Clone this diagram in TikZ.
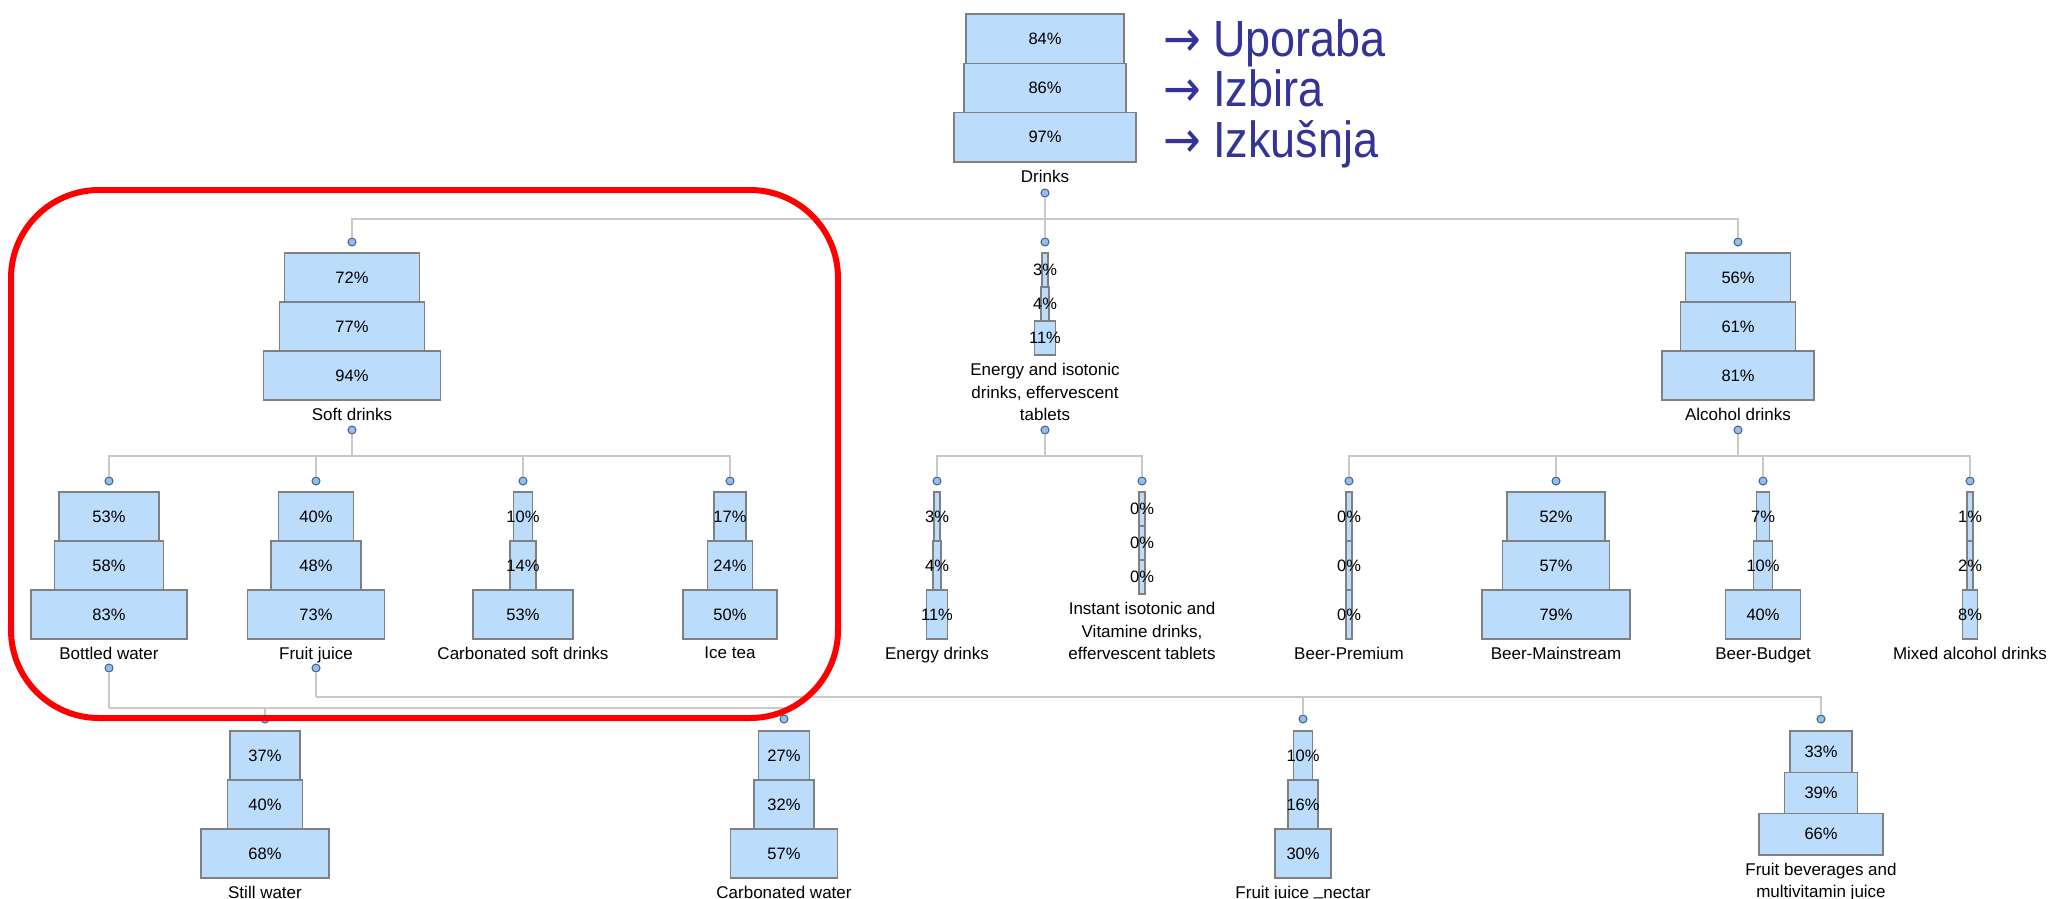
\documentclass[tikz,border=0pt]{standalone}
\usepackage{fontspec}
\usepackage{graphicx}
\setmainfont{Liberation Sans}
\newfontfamily\arrowfont{DejaVu Sans}

\definecolor{boxfill}{RGB}{188,220,252}
\definecolor{boxline}{RGB}{128,128,128}
\definecolor{dotfill}{RGB}{150,190,232}
\definecolor{dotline}{RGB}{60,95,145}
\definecolor{linegray}{RGB}{200,200,200}
\definecolor{noteblue}{RGB}{51,51,153}

% A category: three stacked bars (widths follow the percentages) and its caption.
% #1 name, #2 x of the axis, #3 top y, #4 bar height, #5-#7 percentages, #8 caption
\newcommand\drinknode[8]{%
  \pgfmathsetmacro\wA{max(6,1.88*#5)}%
  \pgfmathsetmacro\wB{max(6,1.88*#6)}%
  \pgfmathsetmacro\wC{max(6,1.88*#7)}%
  \node[pbox, minimum width=\wA pt, minimum height=#4pt,
        label={[name=#1-ta]center:#5\%}] (#1-a) at (#2,#3+0.5*#4) {};
  \node[pbox, minimum width=\wB pt, minimum height=#4pt,
        label={[name=#1-tb]center:#6\%}] (#1-b) at (#2,#3+1.5*#4) {};
  \node[pbox, minimum width=\wC pt, minimum height=#4pt,
        label={[name=#1-tc]center:#7\%}] (#1-c) at (#2,#3+2.5*#4) {};
  \node[lbl] (#1) at (#2,#3+3*#4+8) {#8};
}
% underscore sitting on the baseline
\newcommand\lowbar{\raisebox{3.5pt}{\_}}

\begin{document}
\begin{tikzpicture}[x=1pt,y=-1pt,
  pbox/.style={draw=boxline, fill=boxfill, line width=1.6pt, inner sep=0pt},
  pct/.style={font=\fontsize{16.5}{18}\selectfont, inner sep=0pt, text=black},
  every label/.style={pct},
  lbl/.style={font=\fontsize{17}{22.5}\selectfont, align=center, inner sep=0pt, anchor=north},
  dot/.style={circle, draw=dotline, fill=dotfill, line width=1pt, minimum size=8pt, inner sep=0pt},
  conn/.style={draw=linegray, line width=1.6pt},
  note/.style={font=\fontsize{45}{50}\selectfont, text=noteblue, inner sep=0pt, anchor=base west},
  focus/.style={draw=red, line width=6pt, rounded corners=88pt, inner sep=0pt}
]
\useasboundingbox[fill=white] (0,0) rectangle (2049,898);

% ---- root
\drinknode{dr}{1045}{14}{49.3}{84}{86}{97}{Drinks}
\node[dot] (dr-out) at (1045,193) {};

% ---- first level
\drinknode{sd}{352}{253}{49}{72}{77}{94}{Soft drinks}
\drinknode{ei}{1045}{253}{34}{3}{4}{11}{Energy and isotonic\\drinks, effervescent\\tablets}
\drinknode{al}{1738}{253}{49}{56}{61}{81}{Alcohol drinks}
\foreach \n/\x in {sd/352, ei/1045, al/1738}{
  \node[dot] (\n-in) at (\x,242) {};
  \node[dot] (\n-out) at (\x,430) {};
}

% ---- second level
\drinknode{bw}{109}{492}{49}{53}{58}{83}{Bottled water}
\drinknode{fj}{316}{492}{49}{40}{48}{73}{Fruit juice}
\drinknode{cs}{523}{492}{49}{10}{14}{53}{Carbonated soft drinks}
\drinknode{it}{730}{492}{49}{17}{24}{50}{Ice tea}
\drinknode{ed}{937}{492}{49}{3}{4}{11}{Energy drinks}
\drinknode{ii}{1142}{492}{34}{0}{0}{0}{Instant isotonic and\\Vitamine drinks,\\effervescent tablets}
\drinknode{bp}{1349}{492}{49}{0}{0}{0}{Beer-Premium}
\drinknode{bm}{1556}{492}{49}{52}{57}{79}{Beer-Mainstream}
\drinknode{bb}{1763}{492}{49}{7}{10}{40}{Beer-Budget}
\drinknode{ma}{1970}{492}{49}{1}{2}{8}{Mixed alcohol drinks}
\foreach \n/\x in {bw/109, fj/316, cs/523, it/730, ed/937, ii/1142,
                   bp/1349, bm/1556, bb/1763, ma/1970}{
  \node[dot] (\n-in) at (\x,481) {};
}
\node[dot] (bw-out) at (109,668) {};
\node[dot] (fj-out) at (316,668) {};

% ---- third level
\drinknode{sw}{265}{731}{49}{37}{40}{68}{Still water}
\drinknode{cw}{784}{731}{49}{27}{32}{57}{Carbonated water}
\drinknode{fn}{1303}{731}{49}{10}{16}{30}{Fruit juice \lowbar nectar}
\drinknode{fb}{1821}{731}{41.3}{33}{39}{66}{Fruit beverages and\\multivitamin juice}
\foreach \n/\x in {sw/265, cw/784, fn/1303, fb/1821}{
  \node[dot] (\n-in) at (\x,719) {};
}

% ---- connectors
\coordinate (bus0) at (1045,219);
\draw[conn] (dr-out) -- (bus0);
\draw[conn] (bus0) -| (sd-in);
\draw[conn] (bus0) -- (ei-in);
\draw[conn] (bus0) -| (al-in);

\coordinate (bus1) at (352,456);
\draw[conn] (sd-out) -- (bus1);
\foreach \c in {bw, fj, cs, it} \draw[conn] (bus1) -| (\c-in);

\coordinate (bus2) at (1045,456);
\draw[conn] (ei-out) -- (bus2);
\foreach \c in {ed, ii} \draw[conn] (bus2) -| (\c-in);

\coordinate (bus3) at (1738,456);
\draw[conn] (al-out) -- (bus3);
\foreach \c in {bp, bm, bb, ma} \draw[conn] (bus3) -| (\c-in);

\coordinate (bus4) at (109,708);
\draw[conn] (bw-out) -- (bus4);
\foreach \c in {sw, cw} \draw[conn] (bus4) -| (\c-in);

\coordinate (bus5) at (316,697);
\draw[conn] (fj-out) -- (bus5);
\foreach \c in {fn, fb} \draw[conn] (bus5) -| (\c-in);

% ---- legend of the three bars
\node[note] (use) at (1163,56) {\scalebox{1}[1.13]{{\arrowfont →} Uporaba}};
\node[note] (choice) at (1163,106) {\scalebox{1}[1.13]{{\arrowfont →} Izbira}};
\node[note] (exper) at (1163,157) {\scalebox{1}[1.13]{{\arrowfont →} Izkušnja}};

% ---- highlighted soft-drinks branch
\node[focus, minimum width=827pt, minimum height=528pt] (soft) at (424.5,454) {};
\end{tikzpicture}
\end{document}
